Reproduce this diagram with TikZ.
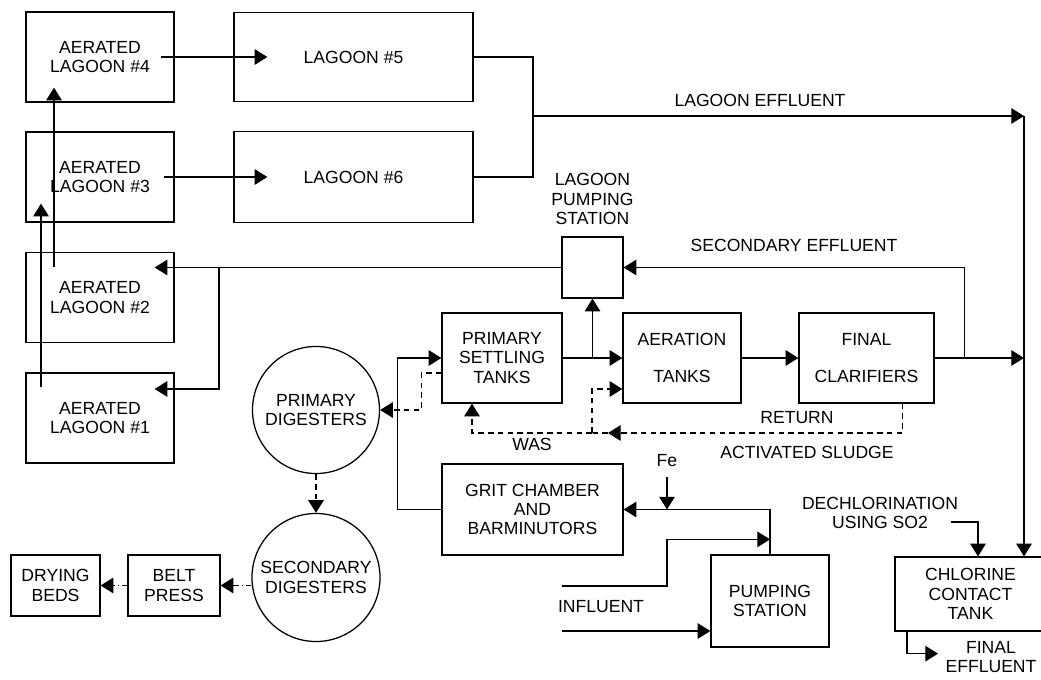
\documentclass[tikz,border=0pt]{standalone}
\usepackage{fontspec}
\setmainfont{Liberation Sans}
\usetikzlibrary{positioning,arrows.meta,calc}

\begin{document}
\begin{tikzpicture}[
  x=0.025cm,y=-0.025cm,
  font=\fontsize{12.5}{13.7}\selectfont,
  line width=0.9pt,
  box/.style={draw,align=center,inner sep=2pt},
  tank/.style={draw,circle,align=center,inner sep=0pt},
  lbl/.style={align=center,inner sep=1pt},
  arr/.style={-{Triangle[length=9pt,width=11pt]}},
  dsh/.style={dash pattern=on 4pt off 3pt},
  dshdot/.style={dash pattern=on 4pt off 2pt on 1pt off 2pt},
]
\useasboundingbox (0,0) rectangle (1041,679);

% Aerated lagoons + lagoons
\node[box,minimum width=3.7cm,minimum height=2.25cm] (AL4) at (100,57) {AERATED\\LAGOON \#4};
\node[box,minimum width=3.7cm,minimum height=2.25cm] (AL3) at (100,177) {AERATED\\LAGOON \#3};
\node[box,minimum width=3.7cm,minimum height=2.25cm] (AL2) at (100,297.5) {AERATED\\LAGOON \#2};
\node[box,minimum width=3.7cm,minimum height=2.25cm] (AL1) at (100,418) {AERATED\\LAGOON \#1};
\node[box,minimum width=5.975cm,minimum height=2.225cm] (L5) at (353.5,57) {LAGOON \#5};
\node[box,minimum width=5.975cm,minimum height=2.275cm] (L6) at (353.5,177) {LAGOON \#6};

% Main treatment line
\node[box,minimum width=1.525cm,minimum height=1.525cm] (LPS) at (592.5,267.5) {};
\node[lbl,above=7pt of LPS] (lpslbl) {LAGOON\\PUMPING\\STATION};
\node[box,minimum width=3cm,minimum height=2.25cm] (PST) at (502,358) {PRIMARY\\SETTLING\\TANKS};
\node[box,minimum width=2.95cm,minimum height=2.25cm] (AT) at (682,358) {AERATION\\[13pt]TANKS};
\node[box,minimum width=3.375cm,minimum height=2.25cm] (FC) at (866.5,358) {FINAL\\[13pt]CLARIFIERS};
\node[box,minimum width=4.525cm,minimum height=2.275cm] (GC) at (532.5,509.5) {GRIT CHAMBER\\AND\\BARMINUTORS};
\node[box,minimum width=2.95cm,minimum height=2.3cm] (PS) at (770,601) {PUMPING\\STATION};
\node[box,minimum width=3.775cm,minimum height=1.85cm] (CCT) at (970.5,594) {CHLORINE\\CONTACT\\TANK};

% Sludge line
\node[tank,minimum size=3.175cm] (PD) at (316,410) {PRIMARY\\DIGESTERS};
\node[tank,minimum size=3.2cm] (SD) at (316,577.5) {SECONDARY\\DIGESTERS};
\node[box,minimum width=2.3cm,minimum height=1.525cm] (BP) at (174,585.5) {BELT\\PRESS};
\node[box,minimum width=2.225cm,minimum height=1.525cm] (DB) at (55.5,585.5) {DRYING\\BEDS};

% Labels
\node[lbl] (lageff) at (760,100) {LAGOON EFFLUENT};
\node[lbl] (seceff) at (794,245) {SECONDARY EFFLUENT};
\node[lbl] (ret) at (797,418) {RETURN};
\node[lbl] (ras) at (807,452) {ACTIVATED SLUDGE};
\node[lbl] (was) at (532,444) {WAS};
\node[lbl] (Fe) at (667,461) {Fe};
\node[lbl] (infl) at (601,607) {INFLUENT};
\node[lbl] (dechlbl) at (880,513) {DECHLORINATION\\USING SO2};
\node[lbl] (feff) at (991,657) {FINAL\\EFFLUENT};

% Free ends and junctions
\coordinate (lagjoin) at (533,116);
\coordinate (lagturn) at (1024,116);
\coordinate (lagsplit) at (219,267.5);
\coordinate (rasmid) at (608,433);
\coordinate (rassplit) at (592,433);
\coordinate (infA) at (562,586);
\coordinate (infB) at (562,631);
\coordinate (dechl) at (951,522);

% Lagoon flows
\draw[arr] ([xshift=-0.35cm]AL4.east) -- ([xshift=0.85cm]L5.west);
\draw[arr] ([xshift=-0.275cm]AL3.east) -- ([xshift=0.85cm]L6.west);
\draw[arr] ([shift={(-59,15)}]AL1.north) -- ([shift={(-59,-19)}]AL3.south);
\draw[arr] ([shift={(-46,15)}]AL2.north) -- ([shift={(-46,-15)}]AL4.south);
\draw (L5.east) -| (lagjoin) |- (L6.east);
\draw[arr] (lagjoin) -- (lagturn);
\draw[arr] (lagturn) -- (lagturn |- CCT.north);

% Liquid line
\draw[arr] (PST.east) -- (AT.west);
\draw[arr] (AT.east) -- (FC.west);
\draw[arr] (FC.east) -- (lagturn |- FC.east);
\draw[arr] (LPS.south |- PST.east) -- (LPS.south);
\draw[arr] ([xshift=0.75cm]FC.east) |- (LPS.east);
\draw[arr] (LPS.west) -- ($(AL2.east |- LPS.west)+(-20,0)$);
\draw[arr] (lagsplit) |- ($(AL1.east)+(-20,-29)$);

% Grit chamber, digesters
\draw[arr] (GC.west) -- ++(-44,0) |- (PST.west);
\draw[dsh,arr] ($(PST.west)+(0,15)$) -- ++(-20,0) |- (PD.east);
\draw[dsh,arr] (PD.south) -- (SD.north);
\draw[dshdot,arr] (SD.west |- BP.east) -- (BP.east);
\draw[dshdot,arr] (BP.west) -- (DB.east);

% Return activated sludge / WAS
\draw[dsh,arr] ($(FC.south)+(36,0)$) |- (rasmid);
\draw[dsh] (rasmid) -- (rassplit);
\draw[dsh,arr] (rassplit) -| ($(PST.south)+(-30,0)$);
\draw[dsh,arr] (rassplit) |- ($(AT.west)+(0,31)$);

% Influent
\draw[arr] (PS.north) |- (GC.east);
\draw[arr] (infA) -- ++(105,0) |- ($(PS.north)+(0,-15)$);
\draw[arr] (infB) -- (infB -| PS.west);
\draw[arr] ($(Fe.south)+(0,8)$) -- (Fe.south |- GC.east);

% Chlorination
\draw[arr] (dechl) -| ($(CCT.north)+(7.5,0)$);
\draw[arr] ($(CCT.south)+(-63.5,0)$) |- ++(31,22);

\end{tikzpicture}
\end{document}
